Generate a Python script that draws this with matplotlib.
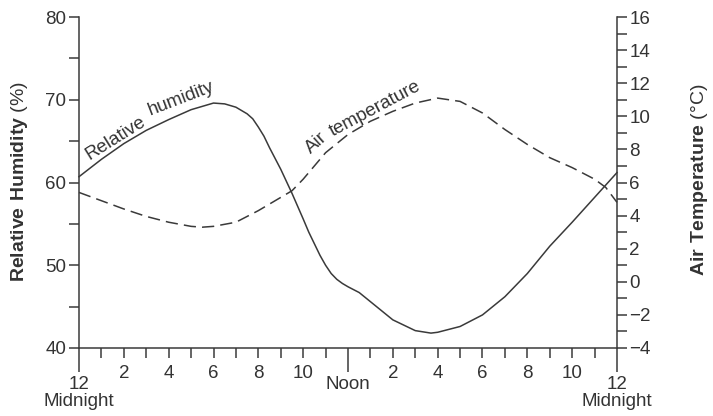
import matplotlib.pyplot as plt
import numpy as np

plt.rcParams['font.family'] = ['Liberation Sans', 'DejaVu Sans']
plt.rcParams['mathtext.fontset'] = 'custom'
plt.rcParams['mathtext.rm'] = 'Liberation Sans'
plt.rcParams['mathtext.bf'] = 'Liberation Sans:bold'

# hours after midnight
rh_hours = [0, 1, 2, 3, 4, 5, 6, 6.5, 7, 7.5, 7.75, 8, 8.25, 8.5, 9, 9.5, 10, 10.25, 10.5,
            10.75, 11, 11.25, 11.5, 11.75, 12, 12.5, 13, 14, 15, 15.7, 16, 17, 18, 19, 20,
            21, 22, 23, 24]
rh_values = [60.7, 62.8, 64.7, 66.3, 67.6, 68.8, 69.6, 69.5, 69.1, 68.3, 67.7, 66.7, 65.6,
             64.2, 61.6, 58.7, 55.6, 54.0, 52.6, 51.2, 50.0, 49.0, 48.3, 47.8, 47.4, 46.7,
             45.6, 43.4, 42.1, 41.8, 41.9, 42.6, 44.0, 46.2, 49.0, 52.3, 55.2, 58.2, 61.2]

temp_hours = [0, 1, 2, 3, 4, 5, 5.5, 6, 7, 8, 9, 9.5, 10, 11, 12, 13, 14, 15, 16, 17,
              18, 19, 20, 21, 22, 23, 23.5, 24]
temp_values = [5.4, 4.9, 4.4, 3.95, 3.6, 3.35, 3.3, 3.35, 3.6, 4.3, 5.1, 5.5, 6.2, 7.8,
               8.9, 9.7, 10.3, 10.8, 11.1, 10.9, 10.2, 9.2, 8.3, 7.5, 6.9, 6.2, 5.7, 4.8]

minor_labels = ['', '2', '', '4', '', '6', '', '8', '', '10', '',
                '', '2', '', '4', '', '6', '', '8', '', '10', '']
major_labels = ['12\nMidnight', 'Noon', '12\nMidnight']

ink = '#3a3a3a'
txt = '#333333'
fs = 13.5

fig = plt.figure(figsize=(7.13, 4.16), dpi=100)
ax = fig.add_axes([79 / 713, 1 - 348 / 416, (617 - 79) / 713, (348 - 17) / 416])
ax2 = ax.twinx()

ax.plot(rh_hours, rh_values, color=ink, lw=1.1, clip_on=False)
ax2.plot(temp_hours, temp_values, color=ink, lw=1.1, dashes=(8, 4), clip_on=False)

ax.set_xlim(0, 24)
ax.set_ylim(40, 80)
ax2.set_ylim(-4, 16)

for a in (ax, ax2):
    a.spines['top'].set_visible(False)
    for s in a.spines.values():
        s.set_color(ink)
        s.set_linewidth(1.1)
ax.spines['right'].set_visible(False)
ax2.spines['left'].set_visible(False)
ax2.spines['bottom'].set_visible(False)

ax.set_xticks([0, 12, 24])
ax.set_xticklabels(major_labels)
minor_hours = [h for h in range(1, 24) if h != 12]
ax.set_xticks(minor_hours, minor=True)
ax.set_xticklabels(minor_labels, minor=True)
ax.tick_params(axis='x', which='major', length=17, width=1.1, color=ink, labelsize=fs,
               labelcolor=txt, pad=3.5, direction='out')
ax.tick_params(axis='x', which='minor', length=7.5, width=1.1, color=ink, labelsize=fs,
               labelcolor=txt, pad=5, direction='out')
for lbl in ax.get_xticklabels():
    lbl.set_linespacing(0.95)

ax.set_yticks([40, 50, 60, 70, 80])
ax.set_yticks([45, 55, 65, 75], minor=True)
ax.tick_params(axis='y', which='both', length=7, width=1.1, color=ink, labelsize=fs,
               labelcolor=txt, direction='out', pad=2)

ax2.set_yticks(np.arange(-4, 17, 2))
ax2.set_yticks(np.arange(-3, 16, 2), minor=True)
ax2.tick_params(axis='y', which='both', length=7, width=1.1, color=ink, labelsize=fs,
                labelcolor=txt, direction='out', pad=2)

fig.text(20 / 713, 1 - 181 / 416, r'$\mathbf{Relative\ Humidity}$ (%)', rotation=90,
         ha='center', va='center', fontsize=14, color=txt)
fig.text(700 / 713, 1 - 180 / 416, r'$\mathbf{Air\ Temperature}$ (°C)', rotation=90,
         ha='center', va='center', fontsize=14, color=txt)

kw = dict(ha='center', va='center', rotation_mode='anchor', fontsize=fs, color=txt)
ax.text(1.62, 65.4, 'Relative', rotation=32, **kw)
ax.text(4.55, 70.2, 'humidity', rotation=21, **kw)
ax.text(10.6, 64.8, 'Air', rotation=42, **kw)
ax.text(13.2, 68.9, 'temperature', rotation=28, **kw)

fig.savefig('out.png', dpi=100)
